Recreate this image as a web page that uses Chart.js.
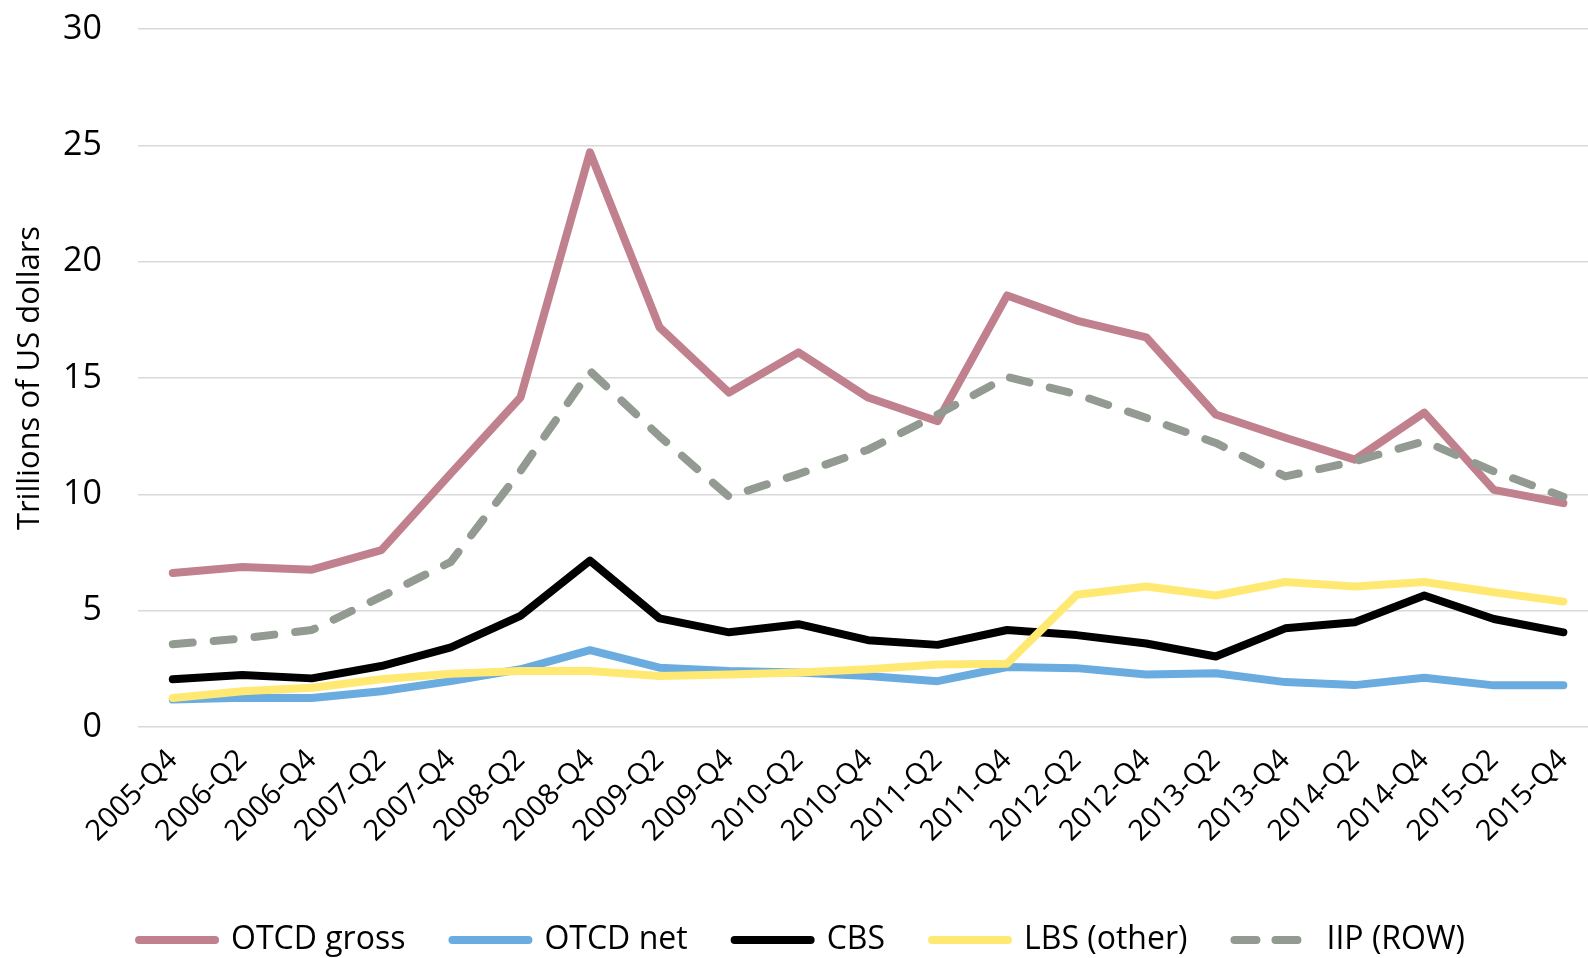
<!DOCTYPE html>
<html>
<head>
<meta charset="utf-8">
<script src="https://cdn.jsdelivr.net/npm/chart.js@4"></script>
<style>
  html, body { margin: 0; padding: 0; background: #fff; overflow: hidden; }
  #wrap { width: 1604px; height: 958px; }
</style>
</head>
<body>
<div id="wrap"><canvas id="grafico" width="1604" height="958"></canvas></div>
<script>
// categories
var periodos = ["2005-Q4", "2006-Q2", "2006-Q4", "2007-Q2", "2007-Q4", "2008-Q2", "2008-Q4",
  "2009-Q2", "2009-Q4", "2010-Q2", "2010-Q4", "2011-Q2", "2011-Q4", "2012-Q2", "2012-Q4",
  "2013-Q2", "2013-Q4", "2014-Q2", "2014-Q4", "2015-Q2", "2015-Q4"];

// series (trillions of US dollars)
var otcdGross = [6.62, 6.88, 6.76, 7.6, 10.9, 14.16, 24.7, 17.18, 14.37, 16.1, 14.16, 13.14,
  18.55, 17.47, 16.75, 13.43, 12.43, 11.49, 13.51, 10.19, 9.62];
var otcdNet = [1.18, 1.26, 1.25, 1.54, 1.97, 2.48, 3.3, 2.55, 2.41, 2.34, 2.19, 1.97,
  2.58, 2.53, 2.26, 2.31, 1.93, 1.8, 2.12, 1.79, 1.79];
var cbs = [2.05, 2.23, 2.09, 2.62, 3.42, 4.78, 7.15, 4.67, 4.07, 4.42, 3.73, 3.53,
  4.17, 3.95, 3.59, 3.03, 4.24, 4.5, 5.65, 4.64, 4.07];
var lbsOther = [1.25, 1.54, 1.69, 2.05, 2.29, 2.41, 2.41, 2.19, 2.26, 2.34, 2.48, 2.69,
  2.72, 5.68, 6.04, 5.65, 6.23, 6.04, 6.23, 5.79, 5.39];
var iipRow = [3.56, 3.8, 4.17, 5.6, 7.1, 11.0, 15.3, 12.5, 9.9, 10.87, 11.92, 13.43,
  15.05, 14.3, 13.29, 12.21, 10.77, 11.42, 12.28, 10.99, 9.9];

// y ticks
var yMin = 0, yMax = 30, yPaso = 5;

var fuente = "'Open Sans', 'Noto Sans', sans-serif";

function serie(nombre, datos, color, orden, guiones) {
  return {
    label: nombre,
    data: datos,
    borderColor: color,
    backgroundColor: color,
    borderWidth: 8,
    borderCapStyle: 'round',
    borderJoinStyle: 'round',
    borderDash: guiones || [],
    pointRadius: 0,
    tension: 0,
    fill: false,
    order: orden
  };
}

var ctx = document.getElementById("grafico").getContext("2d");

var chart = new Chart(ctx, {
  type: 'line',
  data: {
    labels: periodos,
    datasets: [
      serie("OTCD gross", otcdGross, '#C1808E', 4),
      serie("OTCD net", otcdNet, '#6AACDF', 3),
      serie("CBS", cbs, '#000000', 2),
      serie("LBS (other)", lbsOther, '#FFE972', 1),
      serie("IIP (ROW)", iipRow, '#929A92', 0, [20, 21])
    ]
  },
  options: {
    responsive: false,
    animation: false,
    devicePixelRatio: 1,
    layout: { padding: { top: 29, right: 0, bottom: -8, left: 0 } },
    plugins: {
      tooltip: { enabled: false },
      legend: {
        position: 'bottom',
        labels: {
          usePointStyle: true,
          pointStyle: 'line',
          pointStyleWidth: 76,
          boxHeight: 32,
          padding: 47,
          color: '#000',
          font: { family: fuente, size: 32 },
          sort: function (a, b) { return a.datasetIndex - b.datasetIndex; },
          generateLabels: function (ch) {
            var items = Chart.defaults.plugins.legend.labels.generateLabels(ch);
            items.forEach(function (it) {
              var ds = ch.data.datasets[it.datasetIndex];
              it.lineDash = ds.borderDash.length ? [22, 19] : [];
              it.lineCap = 'round';
              it.lineWidth = 8;
            });
            return items;
          }
        }
      }
    },
    scales: {
      x: {
        offset: true,
        grid: { display: false, drawTicks: false },
        border: { display: false },
        ticks: {
          color: '#000',
          font: { family: fuente, size: 29 },
          maxRotation: 45,
          minRotation: 45,
          autoSkip: false,
          padding: 16
        },
        afterFit: function (s) { s.height = 150; }
      },
      y: {
        min: yMin,
        max: yMax,
        grid: { color: '#D9D9D9', lineWidth: 1.5, drawTicks: false },
        border: { display: false },
        ticks: {
          stepSize: yPaso,
          color: '#000',
          font: { family: fuente, size: 34 },
          padding: 36
        },
        title: {
          display: true,
          text: 'Trillions of US dollars',
          color: '#000',
          font: { family: fuente, size: 31 },
          padding: { top: 12, bottom: 0 }
        },
        afterFit: function (s) {
          s.width = 138;
          s.paddingTop = 0;
          s.paddingBottom = 0;
        }
      }
    }
  }
});
</script>
</body>
</html>
